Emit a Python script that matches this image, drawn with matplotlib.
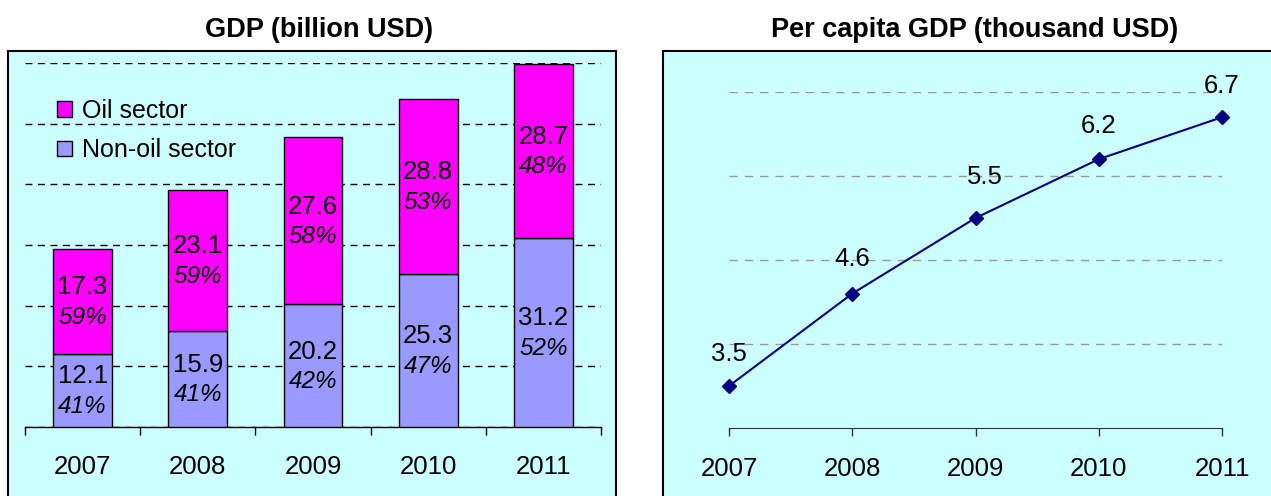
import matplotlib.pyplot as plt
from matplotlib.patches import Rectangle, Patch

plt.rcParams['font.family'] = ['Liberation Sans', 'DejaVu Sans']

years = ['2007', '2008', '2009', '2010', '2011']
non_oil = [12.1, 15.9, 20.2, 25.3, 31.2]
oil = [17.3, 23.1, 27.6, 28.8, 28.7]
non_oil_pct = ['41%', '41%', '42%', '47%', '52%']
oil_pct = ['59%', '59%', '58%', '53%', '48%']

per_capita = [3.5, 4.6, 5.5, 6.2, 6.7]

W, H = 1271, 496
BG = '#CCFFFF'
fig = plt.figure(figsize=(W / 100, H / 100), dpi=100)


def fig_box(x0, y0, x1, y1):
    # pixel box (top-left origin) -> figure fraction [l, b, w, h]
    return [x0 / W, (H - y1) / H, (x1 - x0) / W, (y1 - y0) / H]


# panel frames
for x0, x1 in [(8, 616), (663, 1276)]:
    l, b, w, h = fig_box(x0, 51, x1, 505)
    fig.patches.append(Rectangle((l, b), w, h, transform=fig.transFigure,
                                 facecolor=BG, edgecolor='black', lw=1.5, zorder=-5))

# ---- left: stacked GDP bars
ax1 = fig.add_axes(fig_box(25, 63, 601, 427))
ax1.set_zorder(2)
ax1.set_facecolor('none')
x = list(range(len(years)))
ax1.bar(x, non_oil, width=0.51, color='#9999FF', edgecolor='black', lw=1, zorder=3)
ax1.bar(x, oil, width=0.51, bottom=non_oil, color='#FF00FF', edgecolor='black', lw=1, zorder=3)

for i in x:
    for base, v, p in [(0, non_oil[i], non_oil_pct[i]), (non_oil[i], oil[i], oil_pct[i])]:
        c = base + v / 2
        ax1.annotate(f"{v}", (i, c), xytext=(0, 14), textcoords='offset pixels',
                     ha='center', va='center', fontsize=18.5, zorder=4)
        ax1.annotate(p, (i, c), xytext=(0, -16), textcoords='offset pixels',
                     ha='center', va='center', fontsize=17.5, style='italic', zorder=4)

ax1.set_xlim(-0.5, 4.5)
ax1.set_ylim(0, 60)
ax1.set_yticks(range(0, 61, 10))
ax1.yaxis.grid(True, color='black', lw=1, linestyle=(0, (5, 4)))
ax1.set_axisbelow(True)
ax1.tick_params(axis='y', left=False, labelleft=False)
ax1.set_xticks(x)
ax1.set_xticklabels(years, fontsize=18.5)
ax1.set_xticks([i - 0.5 for i in range(6)], minor=True)
ax1.tick_params(axis='x', which='major', length=0, pad=20)
ax1.tick_params(axis='x', which='minor', length=6, width=1, direction='out')
for s in ['left', 'right', 'top']:
    ax1.spines[s].set_visible(False)
ax1.spines['bottom'].set_linewidth(1)

handles = [Patch(facecolor='#FF00FF', edgecolor='black', label='Oil sector'),
           Patch(facecolor='#9999FF', edgecolor='black', label='Non-oil sector')]
ax1.legend(handles=handles, loc='upper left', bbox_to_anchor=(57 / W, 1 - 99 / H),
           bbox_transform=fig.transFigure, frameon=False, fontsize=18, borderpad=0,
           borderaxespad=0, handlelength=0.6, handleheight=0.6, handletextpad=0.4,
           labelspacing=0.61)

fig.text(319 / W, 1 - 30 / H, 'GDP (billion USD)', ha='center', va='center',
         fontsize=19.5, fontweight='bold')

# ---- right: per capita line
ax2 = fig.add_axes(fig_box(729, 92, 1222, 428))
ax2.set_zorder(2)
ax2.set_facecolor('none')
yr = [int(y) for y in years]
ax2.plot(yr, per_capita, color='#000080', lw=1.5, marker='D', markersize=7.5,
         clip_on=False, zorder=3)
label_dy = [32, 35, 41, 33, 31]
label_dx = [0, 0, 9, 0, 0]
for xi, v, dy, dx in zip(yr, per_capita, label_dy, label_dx):
    ax2.annotate(f"{v}", (xi, v), xytext=(dx, dy), textcoords='offset pixels',
                 ha='center', va='center', fontsize=18.5, annotation_clip=False)

ax2.set_xlim(2007, 2011)
ax2.set_ylim(3, 7)
ax2.set_yticks([4, 5, 6, 7])
ax2.yaxis.grid(True, color='#999999', lw=1, linestyle=(0, (6, 5)))
ax2.set_axisbelow(True)
ax2.tick_params(axis='y', left=False, labelleft=False)
ax2.set_xticks(yr)
ax2.set_xticklabels(years, fontsize=18.5)
ax2.tick_params(axis='x', length=6, width=1, color='#333333', pad=15)
for s in ['left', 'right', 'top']:
    ax2.spines[s].set_visible(False)
ax2.spines['bottom'].set_color('#333333')

fig.text(975 / W, 1 - 30 / H, 'Per capita GDP (thousand USD)', ha='center', va='center',
         fontsize=19.5, fontweight='bold')

fig.savefig('out.png', dpi=100)
